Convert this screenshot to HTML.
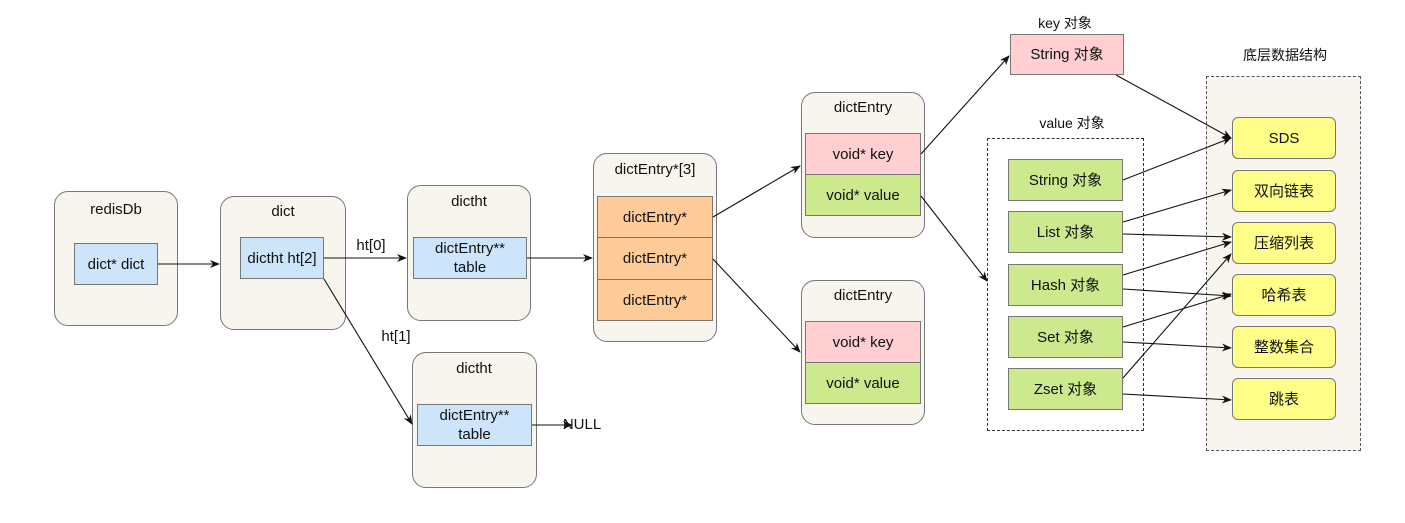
<!DOCTYPE html><html><head><meta charset="utf-8"><style>
body{margin:0;width:1405px;height:523px;background:#fff;position:relative;overflow:hidden;font-family:"Liberation Sans","Noto Sans CJK SC",sans-serif;font-size:15px;color:#111}
.c{position:absolute;background:#f7f5ee;border:1.5px solid #777;border-radius:14px;box-sizing:border-box}
.b{position:absolute;box-sizing:border-box;border:1.5px solid #777;display:flex;align-items:center;justify-content:center;text-align:center;line-height:19px}
.t{position:absolute;text-align:center;transform:translateX(-50%);white-space:nowrap}
.bl{background:#cce5fb}.or{background:#ffcc99}.pk{background:#ffcfd1}.gr{background:#cde98e}.ye{background:#fefe88;border-radius:6px}
svg{position:absolute;left:0;top:0}
</style></head><body>
<div class="c" style="left:54px;top:191px;width:124px;height:135px"></div><div class="t" style="left:116px;top:201px">redisDb</div>
<div class="b bl" style="left:74px;top:243px;width:84px;height:42px">dict* dict</div>
<div class="c" style="left:220px;top:196px;width:126px;height:134px"></div><div class="t" style="left:283px;top:203px">dict</div>
<div class="b bl" style="left:240px;top:237px;width:84px;height:42px">dictht ht[2]</div>
<div class="c" style="left:407px;top:185px;width:124px;height:136px"></div><div class="t" style="left:469px;top:193px">dictht</div>
<div class="b bl" style="left:413px;top:237px;width:114px;height:42px">dictEntry**<br>table</div>
<div class="c" style="left:412px;top:352px;width:125px;height:136px"></div><div class="t" style="left:474px;top:360px">dictht</div>
<div class="b bl" style="left:417px;top:404px;width:115px;height:42px">dictEntry**<br>table</div>
<div class="t" style="left:582px;top:416px">NULL</div>
<div class="t" style="left:371px;top:237px">ht[0]</div><div class="t" style="left:396px;top:328px">ht[1]</div>
<div class="c" style="left:593px;top:153px;width:124px;height:189px"></div><div class="t" style="left:655px;top:161px">dictEntry*[3]</div>
<div class="b or" style="left:597px;top:196px;width:116px;height:43px">dictEntry*</div>
<div class="b or" style="left:597px;top:237px;width:116px;height:43px">dictEntry*</div>
<div class="b or" style="left:597px;top:279px;width:116px;height:42px">dictEntry*</div>
<div class="c" style="left:801px;top:92px;width:124px;height:146px"></div><div class="t" style="left:863px;top:99px">dictEntry</div>
<div class="b pk" style="left:805px;top:133px;width:116px;height:43px">void* key</div>
<div class="b gr" style="left:805px;top:174px;width:116px;height:42px">void* value</div>
<div class="c" style="left:801px;top:280px;width:124px;height:145px"></div><div class="t" style="left:863px;top:287px">dictEntry</div>
<div class="b pk" style="left:805px;top:321px;width:116px;height:43px">void* key</div>
<div class="b gr" style="left:805px;top:362px;width:116px;height:42px">void* value</div>
<div class="t" style="left:1065px;top:13px;font-size:14px">key 对象</div>
<div class="b pk" style="left:1010px;top:34px;width:114px;height:41px">String 对象</div>
<div class="t" style="left:1072px;top:113px;font-size:14px">value 对象</div>
<div style="position:absolute;left:987px;top:138px;width:157px;height:293px;border:1.2px dashed #333;box-sizing:border-box"></div>
<div class="t" style="left:1285px;top:45px;font-size:14px">底层数据结构</div>
<div style="position:absolute;left:1206px;top:76px;width:155px;height:375px;border:1.2px dashed #555;background:#f7f5ee;box-sizing:border-box"></div>
<div class="b gr" style="left:1008px;top:159px;width:115px;height:42px">String 对象</div>
<div class="b gr" style="left:1008px;top:211px;width:115px;height:42px">List 对象</div>
<div class="b gr" style="left:1008px;top:264px;width:115px;height:42px">Hash 对象</div>
<div class="b gr" style="left:1008px;top:316px;width:115px;height:42px">Set 对象</div>
<div class="b gr" style="left:1008px;top:368px;width:115px;height:42px">Zset 对象</div>
<div class="b ye" style="left:1232px;top:117px;width:104px;height:42px">SDS</div>
<div class="b ye" style="left:1232px;top:170px;width:104px;height:42px">双向链表</div>
<div class="b ye" style="left:1232px;top:222px;width:104px;height:42px">压缩列表</div>
<div class="b ye" style="left:1232px;top:274px;width:104px;height:42px">哈希表</div>
<div class="b ye" style="left:1232px;top:326px;width:104px;height:42px">整数集合</div>
<div class="b ye" style="left:1232px;top:378px;width:104px;height:42px">跳表</div>
<svg width="1405" height="523"><defs><marker id="a" markerWidth="10" markerHeight="8" refX="9" refY="4" orient="auto" markerUnits="userSpaceOnUse"><path d="M0,0L10,4L0,8L3,4z" fill="#111"/></marker></defs>
<g stroke="#111" stroke-width="1.1" fill="none" marker-end="url(#a)">
<line x1="158" y1="264" x2="219" y2="264"/>
<line x1="324" y1="258" x2="406" y2="258"/>
<line x1="324" y1="279" x2="412" y2="424"/>
<line x1="527" y1="258" x2="592" y2="258"/>
<line x1="532" y1="425" x2="572" y2="425"/>
<line x1="713" y1="217" x2="800" y2="166"/>
<line x1="713" y1="259" x2="800" y2="352"/>
<line x1="921" y1="154" x2="1009" y2="56"/>
<line x1="921" y1="196" x2="987" y2="281"/>
<line x1="1116" y1="75" x2="1231" y2="138"/>
<line x1="1123" y1="180" x2="1231" y2="138"/>
<line x1="1123" y1="222" x2="1231" y2="190"/>
<line x1="1123" y1="234" x2="1231" y2="237"/>
<line x1="1123" y1="275" x2="1231" y2="242"/>
<line x1="1123" y1="289" x2="1231" y2="296"/>
<line x1="1123" y1="327" x2="1231" y2="294"/>
<line x1="1123" y1="342" x2="1231" y2="348"/>
<line x1="1123" y1="378" x2="1231" y2="254"/>
<line x1="1123" y1="394" x2="1231" y2="400"/>
</g></svg>
</body></html>
